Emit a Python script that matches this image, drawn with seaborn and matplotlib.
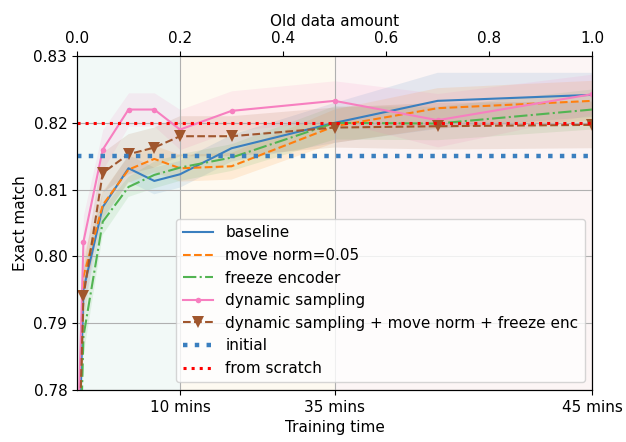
import matplotlib
matplotlib.use("Agg")
import matplotlib.pyplot as plt
import seaborn as sns
import numpy as np

# ---- data ----
old_data = [0.0, 0.0125, 0.05, 0.1, 0.15, 0.2, 0.3, 0.5, 0.7, 1.0]

baseline = [0.759, 0.795, 0.8074, 0.8132, 0.8113, 0.8123, 0.8162, 0.8200, 0.8233, 0.8242]
move_norm = [0.755, 0.797, 0.8077, 0.8130, 0.8146, 0.8132, 0.8135, 0.8195, 0.8222, 0.8233]
freeze_enc = [0.751, 0.788, 0.8052, 0.8104, 0.8122, 0.8133, 0.8148, 0.8200, 0.8199, 0.8220]
dynamic = [0.768, 0.8022, 0.8160, 0.8220, 0.8220, 0.8190, 0.8218, 0.8233, 0.8204, 0.8243]
combo = [0.760, 0.7940, 0.8125, 0.8153, 0.8163, 0.8180, 0.8180, 0.8193, 0.8195, 0.8197]

baseline_sd = [0.004, 0.003, 0.002, 0.002, 0.002, 0.002, 0.002, 0.003, 0.0042, 0.0033]
move_norm_sd = [0.004, 0.003, 0.002, 0.002, 0.002, 0.002, 0.002, 0.0025, 0.003, 0.003]
freeze_enc_sd = [0.004, 0.003, 0.002, 0.0015, 0.002, 0.002, 0.002, 0.0025, 0.0025, 0.003]
dynamic_sd = [0.004, 0.004, 0.003, 0.0025, 0.0025, 0.003, 0.003, 0.003, 0.004, 0.003]
combo_sd = [0.004, 0.004, 0.003, 0.003, 0.003, 0.003, 0.003, 0.003, 0.0035, 0.0035]

initial_value = 0.815
scratch_value = 0.82

time_ticks = [0.2, 0.5, 1.0]
time_labels = ["10 mins", "35 mins", "45 mins"]
top_ticks = [0.0, 0.2, 0.4, 0.6, 0.8, 1.0]

plt.rcParams["font.size"] = 11

# ---- figure ----
fig = plt.figure(figsize=(6.26, 4.42), dpi=100)
ax = fig.add_axes([0.123, 0.118, 0.823, 0.755])

ax.axvspan(0.0, 0.2, color="#f2f9f7", zorder=0, lw=0)
ax.axvspan(0.2, 0.5, color="#fefaf1", zorder=0, lw=0)
ax.axvspan(0.5, 1.0, color="#fcf5f5", zorder=0, lw=0)

series = [
    ("baseline", baseline, baseline_sd, "#3a7fbf", "-", None, 5),
    ("move norm=0.05", move_norm, move_norm_sd, "#ff7f0e", "--", None, 5),
    ("freeze encoder", freeze_enc, freeze_enc_sd, "#52b452", "-.", None, 5),
    ("dynamic sampling", dynamic, dynamic_sd, "#f77fc0", "-", "o", 4),
    ("dynamic sampling + move norm + freeze enc", combo, combo_sd, "#a0562d", "--", "v", 8),
]

for label, vals, sd, color, ls, marker, ms in series:
    v = np.array(vals)
    s = np.array(sd)
    ax.fill_between(old_data, v - s, v + s, color=color, alpha=0.12, lw=0, zorder=1)
    kw = dict(color=color, linestyle=ls, linewidth=1.5, label=label, ax=ax, zorder=3)
    if marker is not None:
        kw.update(marker=marker, markersize=ms, markeredgewidth=0)
    sns.lineplot(x=old_data, y=vals, **kw)

ax.axhline(initial_value, color="#3a7fbf", linestyle=":", linewidth=3.2, label="initial", zorder=4)
ax.axhline(scratch_value, color="red", linestyle=":", linewidth=2.2, label="from scratch", zorder=4)

ax.set_xlim(0, 1)
ax.set_ylim(0.78, 0.83)
ax.set_xticks(time_ticks)
ax.set_xticklabels(time_labels)
ax.set_xlabel("Training time")
ax.set_ylabel("Exact match")
ax.grid(True, color="#b0b0b0", linewidth=0.8)
ax.set_axisbelow(False)
for gl in ax.get_xgridlines() + ax.get_ygridlines():
    gl.set_zorder(2)

ax2 = ax.twiny()
ax2.set_xlim(0, 1)
ax2.set_xticks(top_ticks)
ax2.set_xlabel("Old data amount")

leg = ax.legend(loc="lower right", fontsize=11)
leg.set_zorder(10)

fig.savefig("out.png", dpi=100)
